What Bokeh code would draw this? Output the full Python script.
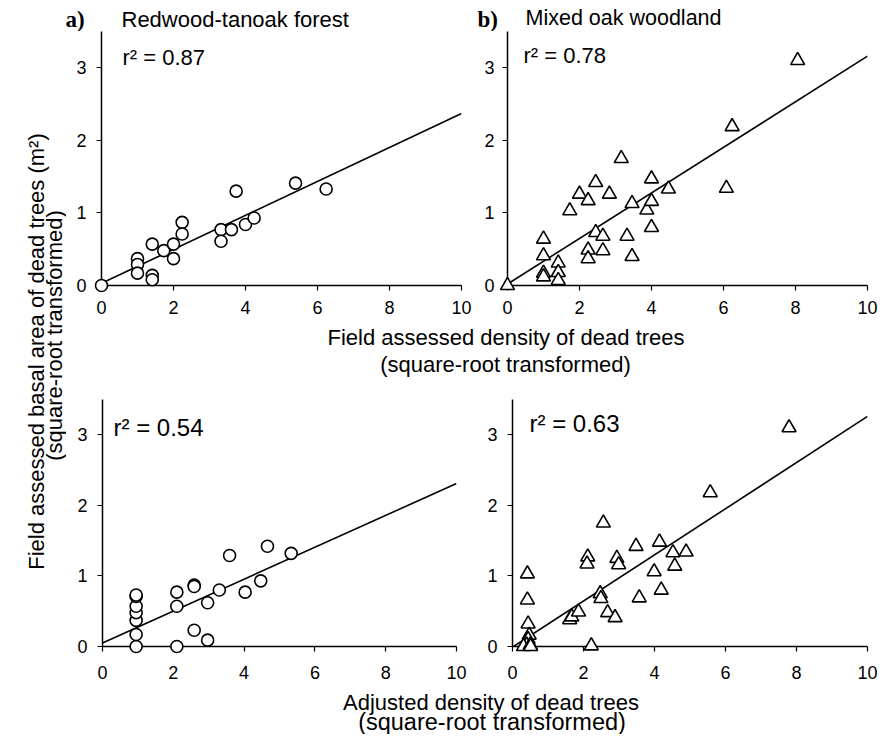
import math
from bokeh.plotting import figure
from bokeh.models import Range1d, Label, FixedTicker
from bokeh.layouts import row, column
from bokeh.embed import file_html
from bokeh.resources import INLINE
from bokeh.core.properties import value

# ---------------- data ----------------
# a) Redwood-tanoak forest, field density vs field basal area
a_x = [0, 1, 1, 1, 1.41, 1.41, 1.41, 1.73, 2, 2, 2.24, 2.24, 3.32, 3.32, 3.61, 3.74, 4.0, 4.24, 5.39, 6.24]
a_y = [0, 0.37, 0.29, 0.17, 0.57, 0.14, 0.08, 0.48, 0.57, 0.37, 0.87, 0.71, 0.77, 0.61, 0.77, 1.30, 0.84, 0.93, 1.41, 1.33]
# b) Mixed oak woodland
b_x = [0, 1, 1, 1, 1, 1.41, 1.41, 1.41, 1.73, 2, 2.24, 2.24, 2.24, 2.45, 2.45, 2.65, 2.65, 2.83, 3.16, 3.32,
       3.46, 3.46, 3.87, 4, 4, 4, 4.47, 6.08, 6.24, 8.06]
b_y = [0, 0.64, 0.41, 0.17, 0.12, 0.31, 0.18, 0.07, 1.03, 1.26, 1.17, 0.49, 0.37, 1.42, 0.73, 0.68, 0.48, 1.26, 1.75, 0.68,
       1.13, 0.40, 1.04, 1.47, 1.16, 0.80, 1.33, 1.34, 2.19, 3.10]
# c) Redwood-tanoak forest, adjusted density
c_x = [0.95, 0.95, 0.95, 0.95, 0.95, 0.95, 0.95, 2.1, 2.1, 2.1, 2.59, 2.59, 2.59, 2.97, 2.97, 3.30, 3.59, 4.03, 4.47, 4.66, 5.33]
c_y = [0, 0.17, 0.37, 0.48, 0.57, 0.71, 0.73, 0, 0.57, 0.77, 0.87, 0.85, 0.23, 0.62, 0.09, 0.80, 1.29, 0.77, 0.93, 1.42, 1.32]
# d) Mixed oak woodland, adjusted density
d_x = [0.42, 0.42, 0.44, 0.47, 0.44, 0.40, 0.31, 0.50, 0.51, 1.61, 1.67, 1.86, 2.12, 2.10, 2.22, 2.47, 2.49, 2.56, 2.68,
       2.89, 2.94, 2.99, 3.48, 3.57, 3.99, 4.14, 4.19, 4.52, 4.57, 4.89, 5.57, 7.79]
d_y = [1.03, 0.66, 0.32, 0.16, 0.10, 0.02, 0.0, 0.02, 0.0, 0.38, 0.42, 0.49, 1.27, 1.17, 0.01, 0.75, 0.68, 1.75, 0.48,
       0.41, 1.25, 1.16, 1.42, 0.69, 1.06, 1.48, 0.80, 1.33, 1.14, 1.34, 2.18, 3.10]

# regression lines: (intercept, slope, x start, x end)
fits = {"a": (0.03, 0.234, 0, 10), "b": (0.02, 0.314, 0, 10), "c": (0.05, 0.226, 0, 10), "d": (-0.01, 0.327, 0.03, 10)}
r2_texts = {"a": "r² = 0.87", "b": "r² = 0.78", "c": "r² = 0.54", "d": "r² = 0.63"}
panel_titles = ["Redwood-tanoak forest", "Mixed oak woodland"]
panel_letters = ["a)", "b)"]
x_ticks = [0, 2, 4, 6, 8, 10]
y_ticks = [0, 1, 2, 3]
xlabel_top = ["Field assessed density of dead trees", "(square-root transformed)"]
xlabel_bot = ["Adjusted density of dead trees", "(square-root transformed)"]
ylabel = ["Field assessed basal area of dead trees (m²)", "(square-root transformed)"]

FONT = "Liberation Sans"
SERIF = "Liberation Serif"


class Geo:
    """page-pixel geometry of one panel: canvas box and frame box"""
    def __init__(self, page_left, page_top, width, height, fl, fr, ft, fb):
        self.page_left, self.page_top = page_left, page_top
        self.width, self.height = width, height
        self.fl, self.fr, self.ft, self.fb = fl, fr, ft, fb

    def to_data(self, px, py):
        x = (px - self.fl) / (self.fr - self.fl) * 10
        y = (self.fb - py) / (self.fb - self.ft) * 3.5
        return x, y


def make_panel(g, xs, ys, marker, msize, key, x_standoff, y_standoff, r2_size):
    p = figure(width=g.width, height=g.height, x_range=Range1d(0, 10), y_range=Range1d(0, 3.5),
               output_backend="svg", toolbar_location=None,
               min_border_left=g.fl - g.page_left, min_border_right=g.page_left + g.width - g.fr,
               min_border_top=g.ft - g.page_top, min_border_bottom=g.page_top + g.height - g.fb)
    p.grid.visible = False
    p.outline_line_color = None
    p.background_fill_color = "white"
    p.border_fill_color = "white"
    for ax, ticks, so in ((p.xaxis[0], x_ticks, x_standoff), (p.yaxis[0], y_ticks, y_standoff)):
        ax.ticker = FixedTicker(ticks=ticks)
        ax.axis_line_color = "black"
        ax.axis_line_width = 1.5
        ax.major_tick_line_color = "black"
        ax.major_tick_line_width = 1.2
        ax.major_tick_in = 0
        ax.major_tick_out = 5
        ax.minor_tick_line_color = None
        ax.major_label_text_font = FONT
        ax.major_label_text_font_size = "18px"
        ax.major_label_text_color = "black"
        ax.major_label_standoff = so
    b0, s, x0, x1 = fits[key]
    lx = [x0, x1]
    ly = [b0 + s * x0, b0 + s * x1]
    p.line(lx, ly, line_color="black", line_width=1.6)
    r = p.scatter(xs, ys, marker=marker, size=msize, fill_color="white", line_color="black", line_width=1.6)
    r.level = "overlay"
    rx, ry = g.r2_pos
    dx, dy = g.to_data(rx, ry)
    p.add_layout(Label(x=dx, y=dy, text=r2_texts[key], text_font=FONT, text_font_size=r2_size,
                       text_align="left", text_baseline="middle", text_color="black"))
    return p


def text_fig(w, h):
    p = figure(width=w, height=h, x_range=Range1d(0, w), y_range=Range1d(0, h), min_border=0,
               x_axis_type=None, y_axis_type=None, output_backend="svg", toolbar_location=None)
    p.grid.visible = False
    p.outline_line_color = None
    return p


# ---------------- layout (absolute page pixels) ----------------
TOP_H = 31
ga = Geo(66, TOP_H, 406, 287, 101, 461, 31, 285)
ga.r2_pos = (122, 57)
gb = Geo(472, TOP_H, 407, 287, 507, 867, 31, 285)
gb.r2_pos = (523, 55)
gc = Geo(66, 378, 406, 304, 102, 456, 397, 646)
gc.r2_pos = (113, 425)
gd = Geo(472, 378, 407, 304, 512, 867, 399, 646)
gd.r2_pos = (529, 423)

fa = make_panel(ga, a_x, a_y, "circle", 12, "a", 10, 10, "22px")
fb = make_panel(gb, b_x, b_y, "triangle", 14, "b", 10, 8, "22px")
fc = make_panel(gc, c_x, c_y, "circle", 12, "c", 14, 10, "24px")
fd = make_panel(gd, d_x, d_y, "triangle", 14, "d", 14, 10, "24px")

# top strip with panel letters and titles (y given as page-pixel centres)
T0 = text_fig(879, TOP_H)
T0.text(x=[65, 477], y=[TOP_H - 18.5, TOP_H - 18.5], text=panel_letters, text_font=value(SERIF),
        text_font_style="bold", text_font_size="23px", text_align="left", text_baseline="middle",
        text_color="black")
T0.text(x=[121], y=[TOP_H - 18.5], text=panel_titles[:1], text_font=value(FONT),
        text_font_size="22px", text_align="left", text_baseline="middle", text_color="black")
T0.text(x=[525], y=[TOP_H - 17.5], text=panel_titles[1:], text_font=value(FONT),
        text_font_size="21.5px", text_align="left", text_baseline="middle", text_color="black")

# left y label strip
L_H = 287 + 60 + 304 + 52
L = text_fig(66, L_H)
L.text(x=[36, 54], y=[L_H - (351 - TOP_H), L_H - (335 - TOP_H)], text=ylabel, angle=math.pi / 2,
       text_font=value(FONT), text_font_size="22px", text_align="center", text_baseline="middle",
       text_color="black")

# shared x labels (strip x 66..879)
X1 = text_fig(813, 60)
X1.text(x=[505.5 - 66, 505 - 66], y=[60 - (337 - 318), 60 - (364 - 318)], text=xlabel_top,
        text_font=value(FONT), text_font_size="22px", text_align="center", text_baseline="middle",
        text_color="black")

X2 = text_fig(813, 52)
X2.text(x=[490.5 - 66], y=[52 - (702 - 682)], text=xlabel_bot[:1],
        text_font=value(FONT), text_font_size="22px", text_align="center", text_baseline="middle",
        text_color="black")
X2.text(x=[491.5 - 66], y=[52 - (721 - 682)], text=xlabel_bot[1:],
        text_font=value(FONT), text_font_size="23.5px", text_align="center", text_baseline="middle",
        text_color="black")

layout = column(T0, row(L, column(row(fa, fb), X1, row(fc, fd), X2)))

open("out.html", "w").write(file_html(layout, INLINE))
